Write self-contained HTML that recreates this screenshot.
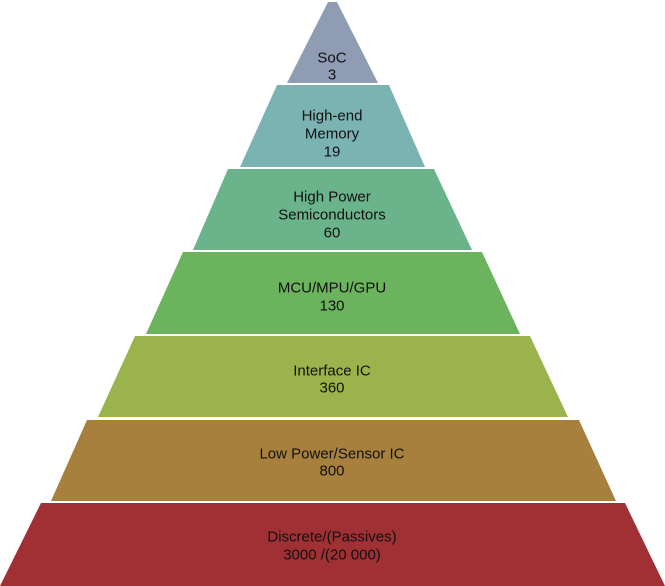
<!DOCTYPE html>
<html><head><meta charset="utf-8"><style>
html,body{margin:0;padding:0;background:#fff;}
svg{display:block;}
text{font-family:"Liberation Sans",sans-serif;font-size:15px;fill:#111;text-anchor:middle;dominant-baseline:central;}
</style></head><body>
<svg width="665" height="586" viewBox="0 0 665 586" xmlns="http://www.w3.org/2000/svg">
<polygon points="328,2 337,2 378,83 287,83" fill="#8f9cb3"/>
<polygon points="277,85 389,85 425,167 240,167" fill="#7bb3b3"/>
<polygon points="228,169 434,169 472,250 193,250" fill="#6bb38b"/>
<polygon points="183,252 482,252 520,334 146,334" fill="#6bb35d"/>
<polygon points="135,336 530,336 568,417 98,417" fill="#9bb34c"/>
<polygon points="87,420 579,420 616,501 51,501" fill="#a8803e"/>
<polygon points="41,503 625,503 665,586 0,586" fill="#a03033"/>
<text x="332" y="58">SoC</text><text x="332" y="75">3</text>
<text x="332" y="116">High-end</text><text x="332" y="134">Memory</text><text x="332" y="152">19</text>
<text x="332" y="197">High Power</text><text x="332" y="215">Semiconductors</text><text x="332" y="233">60</text>
<text x="332" y="288">MCU/MPU/GPU</text><text x="332" y="306">130</text>
<text x="332" y="371">Interface IC</text><text x="332" y="388">360</text>
<text x="332" y="454">Low Power/Sensor IC</text><text x="332" y="471">800</text>
<text x="332" y="537">Discrete/(Passives)</text><text x="332" y="555">3000 /(20 000)</text>
</svg>
</body></html>
